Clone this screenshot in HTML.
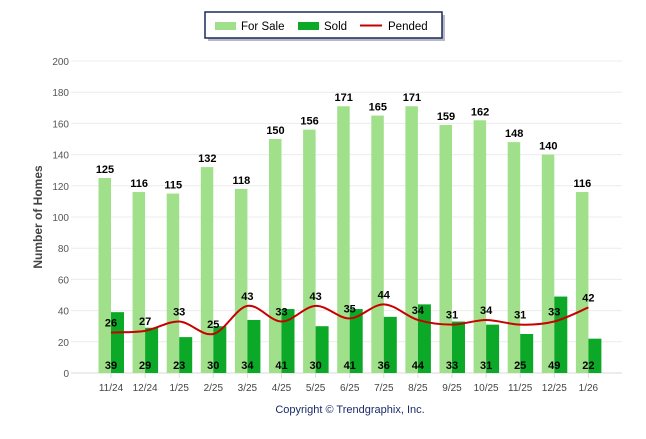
<!DOCTYPE html>
<html><head><meta charset="utf-8"><style>
body{margin:0;background:#fff;font-family:"Liberation Sans",sans-serif;}
svg text{font-family:"Liberation Sans",sans-serif;}
</style></head><body>
<svg width="646" height="434" id="c">
<rect x="208" y="15" width="237" height="26" fill="#b8b8c8"/>
<rect x="205" y="12" width="237" height="26" fill="#fff" stroke="#1a2a5a" stroke-width="1.5"/>
<rect x="215" y="22" width="21" height="8" fill="#a0e08a"/>
<text x="241" y="30" font-size="11.5" fill="#000">For Sale</text>
<rect x="298" y="22" width="21" height="8" fill="#0ca828"/>
<text x="324" y="30" font-size="11.5">Sold</text>
<line x1="360" y1="25.5" x2="382" y2="25.5" stroke="#c80000" stroke-width="2"/>
<text x="388" y="30" font-size="11.5">Pended</text>
<text transform="translate(42,217) rotate(-90)" text-anchor="middle" font-size="12" font-weight="bold" fill="#444">Number of Homes</text>
<text x="350" y="413" text-anchor="middle" font-size="11" fill="#1a2a6a">Copyright © Trendgraphix, Inc.</text>
<g id="g"></g>
</svg>
<script>
const categories=["11/24","12/24","1/25","2/25","3/25","4/25","5/25","6/25","7/25","8/25","9/25","10/25","11/25","12/25","1/26"];
const forSale=[125,116,115,132,118,150,156,171,165,171,159,162,148,140,116];
const sold=[39,29,23,30,34,41,30,41,36,44,33,31,25,49,22];
const pended=[26,27,33,25,43,33,43,35,44,34,31,34,31,33,42];
const yTicks=[0,20,40,60,80,100,120,140,160,180,200];
const NS="http://www.w3.org/2000/svg";
const g=document.getElementById('g');
const y=v=>373-v*1.56;
const x=i=>111+i*34.1;
function mk(t,a){const e=document.createElementNS(NS,t);for(const k in a)e.setAttribute(k,a[k]);g.appendChild(e);return e;}
yTicks.forEach(v=>{
 const l=mk('line',{x1:71,x2:622,y1:y(v),y2:y(v),stroke:v?'#ececec':'#d8d8d8'});
 
 
 const t=mk('text',{x:69,y:y(v)+4,'text-anchor':'end','font-size':10,fill:'#555'});t.textContent=v;
 
 
});
categories.forEach((c,i)=>{
 const cx=x(i);
 const b=mk('rect',{x:cx-12.5,y:y(forSale[i]),width:12.5,height:forSale[i]*1.56,fill:'#a0e08a'});
 
 
 const s=mk('rect',{x:cx,y:y(sold[i]),width:13,height:sold[i]*1.56,fill:'#0ca828'});
 
 
 const t=mk('text',{x:cx,y:391,'text-anchor':'middle','font-size':10,fill:'#444'});t.textContent=c;
 
 
 const tk=mk('line',{x1:cx,x2:cx,y1:373,y2:378,stroke:'#ddd'});
 
 
});
let d='';
const P=pended.map((v,i)=>[x(i),y(v)]);
P.forEach((p,i)=>{
 if(i===0){d='M'+p[0]+','+p[1];return;}
 const p0=P[Math.max(i-2,0)],p1=P[i-1],p2=p,p3=P[Math.min(i+1,P.length-1)];
 const c1=[p1[0]+(p2[0]-p0[0])/6,p1[1]+(p2[1]-p0[1])/6],c2=[p2[0]-(p3[0]-p1[0])/6,p2[1]-(p3[1]-p1[1])/6];
 d+=`C${c1[0]},${c1[1]} ${c2[0]},${c2[1]} ${p2[0]},${p2[1]}`;
});
const pl=mk('path',{d:d,fill:'none',stroke:'#c80000','stroke-width':2});


categories.forEach((c,i)=>{
 const cx=x(i);
 const a=mk('text',{x:cx-6,y:y(forSale[i])-5,'text-anchor':'middle','font-size':11,'font-weight':'bold',fill:'#000'});a.textContent=forSale[i];
 
 
 const b=mk('text',{x:cx,y:y(pended[i])-6,'text-anchor':'middle','font-size':11,'font-weight':'bold',fill:'#000'});b.textContent=pended[i];
 
 
 const s=mk('text',{x:cx,y:369,'text-anchor':'middle','font-size':11,'font-weight':'bold',fill:'#000'});s.textContent=sold[i];
 
 
});
</script>
</body></html>
